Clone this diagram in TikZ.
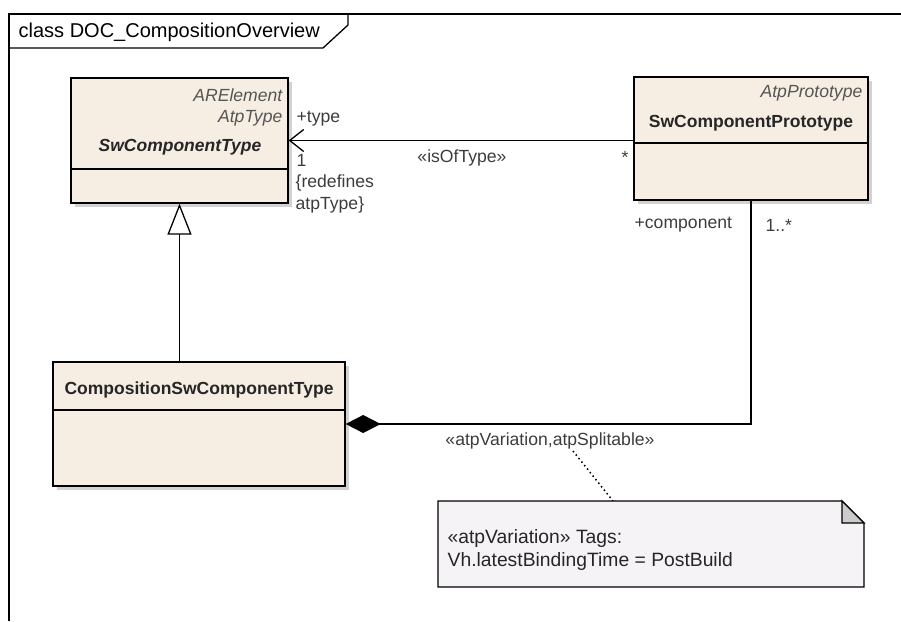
\documentclass[tikz,border=0pt]{standalone}
\usepackage{fontspec}
\setmainfont{Liberation Sans}
\usetikzlibrary{arrows.meta,shadows}
\definecolor{clsfill}{RGB}{246,238,226}
\definecolor{notefill}{RGB}{245,243,246}
\definecolor{stgray}{RGB}{85,85,85}
\definecolor{lblgray}{RGB}{60,60,60}
\newcommand{\lblfont}{\fontsize{17.6}{19}\selectfont}

\begin{document}
\begin{tikzpicture}[x=1pt,y=-1pt,line width=1.3pt,
  cls/.style={draw,fill=clsfill,inner sep=0pt,
    drop shadow={shadow xshift=4pt,shadow yshift=-4pt,fill=black!35,opacity=.5}},
  stereo/.style={font=\lblfont\itshape,text=stgray,inner sep=0pt,anchor=east},
  cname/.style={font=\fontsize{17.5}{20}\selectfont\bfseries,text=black!85,inner sep=0pt},
  lbl/.style={font=\lblfont,text=lblgray,inner sep=0pt,anchor=west},
  notetext/.style={font=\fontsize{19.3}{21}\selectfont,text=black!85,inner sep=0pt,anchor=west}]
  \useasboundingbox (0,0) rectangle (901,621);
  % frame
  \draw (9,621) -- (9,14) -- (901,14);
  \draw (9,48) -- (323,48) -- (348,25) -- (348,14);
  \node[font=\fontsize{20}{22}\selectfont,inner sep=0pt,anchor=west] (title) at (18,32) {class DOC\_CompositionOverview};
  % classes
  \node[cls,minimum width=217pt,minimum height=125pt] (swct) at (179.5,140.5) {};
  \draw (swct.west |- 0,169) -- (swct.east |- 0,169);
  \node[stereo] (swctst1) at (283,95) {ARElement};
  \node[stereo] (swctst2) at (283,118) {AtpType};
  \node[cname,font=\fontsize{17.5}{20}\selectfont\bfseries\itshape] (swctname) at (180,147) {SwComponentType};

  \node[cls,minimum width=234pt,minimum height=123pt] (proto) at (751,138.5) {};
  \draw (proto.west |- 0,143) -- (proto.east |- 0,143);
  \node[stereo] (protost) at (863,93) {AtpPrototype};
  \node[cname] (protoname) at (751,123) {SwComponentPrototype};

  \node[cls,minimum width=292pt,minimum height=124pt] (comp) at (199,424) {};
  \draw (comp.west |- 0,410) -- (comp.east |- 0,410);
  \node[cname] (compname) at (199,390) {CompositionSwComponentType};
  % connectors
  \draw[{Triangle[fill=white,length=31pt,width=24pt]}-] (swct.south) -- (swct.south |- comp.north);
  \draw[{Straight Barb[length=14pt,width=22pt]}-] (swct.east) -- (proto.west |- swct.east);
  \draw[{Diamond[length=35pt,width=18pt]}-] (comp.east) -| (proto.south);
  % labels
  \node[lbl] (rtype) at (296,119) {+type};
  \node[lbl] (rmult) at (296,160) {1};
  \node[lbl] (rdef1) at (295,183) {\{redefines};
  \node[lbl] (rdef2) at (295,205) {atpType\}};
  \node[lbl,anchor=center] (isoftype) at (462,158) {«isOfType»};
  \node[lbl,anchor=center] (pmult) at (625,157) {*};
  \node[lbl] (crole) at (634,225) {+component};
  \node[lbl] (cmult) at (765,225) {1..*};
  \node[lbl,anchor=center] (cstereo) at (550,441) {«atpVariation,atpSplitable»};
  % note
  \coordinate (linkA) at (573,451);
  \coordinate (linkB) at (613,501);
  \draw[line width=1.5pt,dash pattern=on 1.5pt off 3pt] (linkA) -- (linkB);
  \draw[fill=notefill] (438,501) -- (842,501) -- (864,523) -- (864,587) -- (438,587) -- cycle;
  \draw[fill=black!20] (842,501) -- (842,523) -- (864,523) -- cycle;
  \node[notetext] (note1) at (447,539) {«atpVariation» Tags:};
  \node[notetext] (note2) at (447,562) {Vh.latestBindingTime = PostBuild};
\end{tikzpicture}
\end{document}
